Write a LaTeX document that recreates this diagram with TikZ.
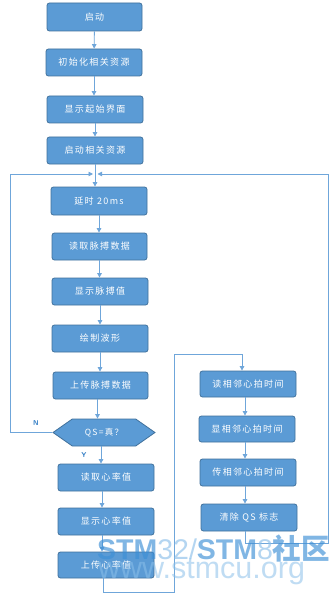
\documentclass[tikz,border=0pt]{standalone}
\usepackage{fontspec}
\newfontfamily\cjk{Noto Sans CJK SC}
\newfontfamily\cjkbox[LetterSpace=15]{Noto Sans CJK SC}
\newfontfamily\wmfont{Liberation Sans}
\usetikzlibrary{arrows.meta,shapes.symbols}
\definecolor{boxblue}{HTML}{5B9BD5}
\definecolor{boxborder}{HTML}{41719C}
\definecolor{linkblue}{HTML}{6FA6DA}
\definecolor{labelblue}{HTML}{2E7BC4}
\definecolor{wmdark}{HTML}{3D8FD6}
\definecolor{wmlight}{HTML}{8CC0EA}
\begin{document}
\begin{tikzpicture}[x=1pt,y=-1pt,
  stepbox/.style={draw=boxborder,line width=0.8pt,fill=boxblue,rounded corners=2.5pt,
    text=white,font=\cjkbox\fontsize{9}{10}\selectfont,minimum width=96pt,minimum height=27pt,inner sep=0pt},
  decide/.style={draw=boxborder,line width=0.8pt,fill=boxblue,signal,signal to=west and east,
    signal pointer angle=70,text=white,font=\cjkbox\fontsize{8.5}{10}\selectfont,
    minimum width=102pt,minimum height=27pt,inner sep=0pt},
  link/.style={draw=linkblue,line width=0.9pt},
  arr/.style={link,-{Triangle[length=4.5pt,width=4.5pt]}},
  yn/.style={text=labelblue,font=\sffamily\bfseries\fontsize{7}{8}\selectfont,inner sep=0pt}]
\useasboundingbox (0,0) rectangle (335,596);
\fill[white] (0,0) rectangle (335,596);
% left column
\node[stepbox,minimum width=95pt,minimum height=28pt] (start) at (94.5,17) {启动};
\node[stepbox] (init) at (94,62.5) {初始化相关资源};
\node[stepbox] (disp) at (95,109.5) {显示起始界面};
\node[stepbox] (startres) at (95,150.5) {启动相关资源};
\node[stepbox,minimum height=28pt] (delay) at (99,201) {延时 20ms};
\node[stepbox,minimum width=95pt] (readp) at (99.5,246.5) {读取脉搏数据};
\node[stepbox] (dispp) at (100,291.5) {显示脉搏值};
\node[stepbox] (drawwave) at (100,338.5) {绘制波形};
\node[stepbox,minimum width=95pt] (uploadp) at (100.5,385.5) {上传脉搏数据};
\node[decide] (qs) at (104,432.5) {QS=真？};
\node[stepbox] (readhr) at (106,477.5) {读取心率值};
\node[stepbox] (disphr) at (106,521.5) {显示心率值};
\node[stepbox,minimum height=26pt] (uploadhr) at (106,565) {上传心率值};
% right column
\node[stepbox,minimum height=26pt] (readadj) at (248,384) {读相邻心拍时间};
\node[stepbox,minimum height=26pt] (dispadj) at (247,429) {显相邻心拍时间};
\node[stepbox] (transadj) at (248,472.5) {传相邻心拍时间};
\node[stepbox] (clear) at (249,517.5) {清除 QS 标志};
% coordinates
\coordinate (j) at (95,174);
\coordinate (jl) at (93,174);
\coordinate (jr) at (97.5,174);
\coordinate (nl) at (10,432.5);
\coordinate (nt) at (10,174);
\coordinate (rb) at (328,543);
\coordinate (rt) at (328,174);
\coordinate (mb) at (174,592);
\coordinate (mt) at (174,354);
% connectors
\draw[arr] (start) -- (init);
\draw[arr] (init.south) -- (init.south |- disp.north);
\draw[arr] (disp) -- (startres);
\draw[link] (startres.south) -- (j);
\draw[arr] (j) -- (j |- delay.north);
\draw[arr] (delay.south) -- (delay.south |- readp.north);
\draw[arr] (readp.south) -- (readp.south |- dispp.north);
\draw[arr] (dispp) -- (drawwave);
\draw[arr] (drawwave.south) -- (drawwave.south |- uploadp.north);
\draw[arr] ([xshift=-3pt]uploadp.south) -- ([xshift=-3pt]uploadp.south |- qs.north);
\draw[arr] ([xshift=-3pt]qs.south) -- ([xshift=-3pt]qs.south |- readhr.north);
\draw[arr] ([xshift=-4pt]readhr.south) -- ([xshift=-4pt]readhr.south |- disphr.north);
\draw[arr] ([xshift=-4pt]disphr.south) -- ([xshift=-4pt]disphr.south |- uploadhr.north);
\draw[arr] (qs.west) -- (nl) -- (nt) -- (jl);
\draw[arr] ([xshift=-3pt]uploadhr.south) -- ([xshift=-3pt]uploadhr.south |- mb) -- (mb) -- (mt) -- ([xshift=-6pt]readadj.north |- mt) -- ([xshift=-6pt]readadj.north);
\draw[arr] ([xshift=-3pt]readadj.south) -- ([xshift=-3pt]readadj.south |- dispadj.north);
\draw[arr] ([xshift=-2pt]dispadj.south) -- ([xshift=-2pt]dispadj.south |- transadj.north);
\draw[arr] ([xshift=-3pt]transadj.south) -- ([xshift=-3pt]transadj.south |- clear.north);
\draw[arr] ([xshift=-4pt]clear.south) -- ([xshift=-4pt]clear.south |- rb) -- (rb) -- (rt) -- (jr);
\node[yn] (nlab) at (36,423) {N};
\node[yn] (ylab) at (84,455) {Y};
% watermark
\node[anchor=base west,inner sep=0pt,opacity=0.65,font=\wmfont\fontsize{28.5}{30}\selectfont] (wm1) at (97,559.5)
  {\textcolor{wmdark}{\bfseries STM}\textcolor{wmlight}{32/}\textcolor{wmdark}{\bfseries STM}\textcolor{wmlight}{8}\textcolor{wmdark}{\cjk\bfseries 社区}};
\node[anchor=base west,inner sep=0pt,opacity=0.55,text=wmlight,font=\wmfont\fontsize{30.5}{32}\selectfont] (wm2) at (98,578) {www.stmcu.org};
\end{tikzpicture}
\end{document}
